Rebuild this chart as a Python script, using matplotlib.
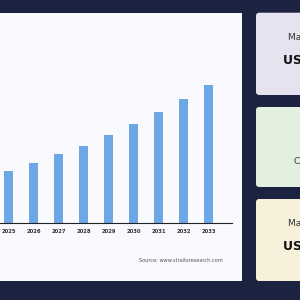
import matplotlib.pyplot as plt
from matplotlib.patches import FancyBboxPatch, Rectangle

years = ['2025', '2026', '2027', '2028', '2029', '2030', '2031', '2032', '2033']
values = [5.2, 6.0, 6.9, 7.7, 8.8, 9.9, 11.1, 12.4, 13.8]

navy = '#1b2341'
bar_color = '#6ca8e6'

fig = plt.figure(figsize=(3, 3), dpi=100)
fig.patch.set_facecolor(navy)

# background layer in pixel coords (y from top)
bg = fig.add_axes([0, 0, 1, 1])
bg.set_xlim(0, 300)
bg.set_ylim(300, 0)
bg.axis('off')
bg.add_patch(Rectangle((-5, 12.7), 246.7, 268.3, facecolor='#f8fafe', edgecolor='none'))

cards = [(12.7, 95, '#e6e2ef'), (107, 187, '#e3efdf'), (199, 281, '#f6f0da')]
for top, bottom, col in cards:
    bg.add_patch(FancyBboxPatch((256, top), 60, bottom - top,
                                boxstyle='round,pad=0,rounding_size=3',
                                facecolor=col, edgecolor='none'))

bg.text(288, 38, 'Market Size in 2024', fontsize=6.5, color='#333333', va='center', ha='left')
bg.text(283, 60, 'USD 4.85 Billion', fontsize=9, fontweight='bold', color='#111111', va='center', ha='left')
bg.text(294, 162, 'CAGR', fontsize=6.5, color='#333333', va='center', ha='left')
bg.text(288, 223, 'Market Size by 2033', fontsize=6.5, color='#333333', va='center', ha='left')
bg.text(283, 247, 'USD 13.8 Billion', fontsize=9, fontweight='bold', color='#111111', va='center', ha='left')
bg.text(180.5, 261, 'Source: www.straitsresearch.com', fontsize=3.6, color='#555555', va='center', ha='center')

# bar chart
ax = fig.add_axes([0, 1 - 223 / 300, 231.7 / 300, 210 / 300])
ax.patch.set_alpha(0)
x = list(range(len(years)))
ax.bar(x, values, width=0.37, color=bar_color)
ax.set_xlim(-0.348, 8.92)
ax.set_ylim(0, 21)
for s in ['top', 'right', 'left']:
    ax.spines[s].set_visible(False)
ax.spines['bottom'].set_color('#222222')
ax.spines['bottom'].set_linewidth(0.8)
ax.set_yticks([])
ax.set_xticks(x)
ax.set_xticklabels(years, fontsize=3.8, fontweight='bold', color='#333333')
ax.tick_params(axis='x', length=0, pad=4)

fig.savefig('out.png', dpi=100, facecolor=navy)
